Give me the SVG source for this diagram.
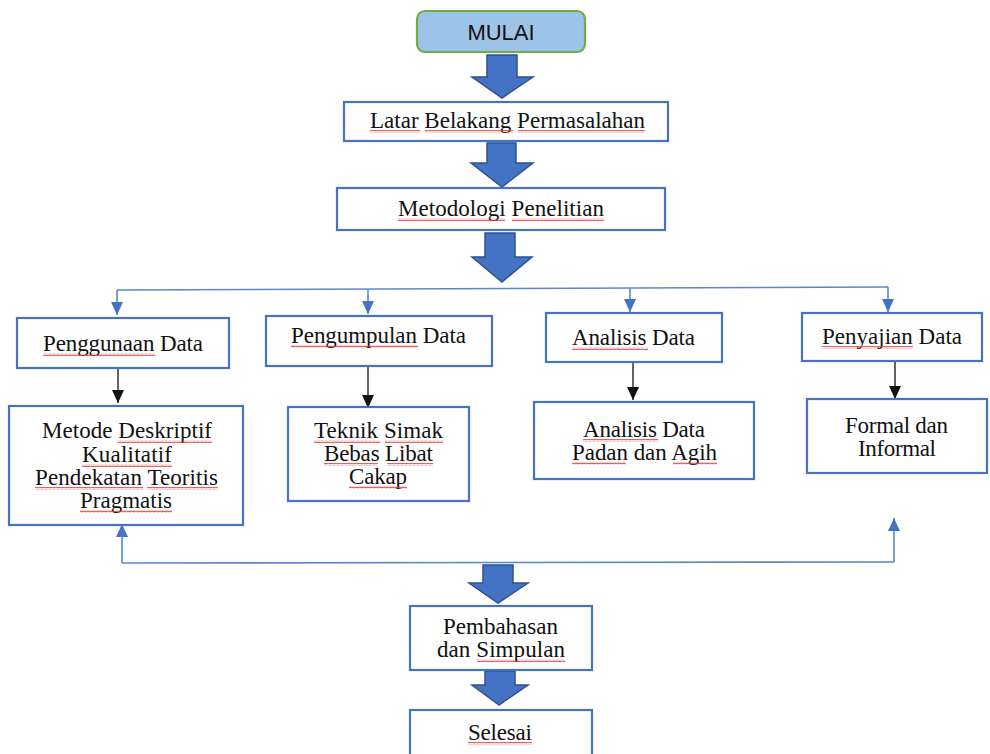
<svg xmlns="http://www.w3.org/2000/svg" width="990" height="754" viewBox="0 0 990 754">
<style>
.box{fill:#fff;stroke:#4472C4;stroke-width:2.2}
.t{font-family:"Liberation Serif","Times New Roman",serif;font-size:23px;fill:#111;text-anchor:middle}
.blk{fill:#4472C4;stroke:#2F528F;stroke-width:1.5;stroke-linejoin:miter}
.bl{fill:none;stroke:#5B87C8;stroke-width:1.6}
.kl{fill:none;stroke:#111;stroke-width:1.3}
.sq{fill:url(#wave)}
</style>
<defs>
<pattern id="wave" patternUnits="userSpaceOnUse" width="4" height="3">
<path d="M0 2.3 L1 0.7 L2 2.3 L3 0.7 L4 2.3" fill="none" stroke="#E03A3A" stroke-width="0.8"/>
</pattern>
<marker id="ak" markerUnits="userSpaceOnUse" markerWidth="14" markerHeight="14" viewBox="0 0 14 14" refX="13" refY="7" orient="auto">
<path d="M0 1 L13 7 L0 13 Z" fill="#111"/>
</marker>
<marker id="abl" markerUnits="userSpaceOnUse" markerWidth="14" markerHeight="14" viewBox="0 0 14 14" refX="13" refY="7" orient="auto">
<path d="M0 1 L13 7 L0 13 Z" fill="#4472C4"/>
</marker>
</defs>

<g id="connectors">
<path class="blk" d="M487 55 H517 V77 H533 L502 98 L472 77 H487 Z"/>
<path class="blk" d="M487 143 H516 V163 H533 L502 187 L471 163 H487 Z"/>
<path class="blk" d="M485 233 H515 V257 H532 L502 282 L472 257 H485 Z"/>
<path class="blk" d="M483 565 H513 V583 H528 L498 603 L469 583 H483 Z"/>
<path class="blk" d="M485 671 H515 V685 H528 L499 705 L472 685 H485 Z"/>
<path class="bl" d="M117 290 L888 287"/>
<path class="bl" d="M117 290 V315" marker-end="url(#abl)"/>
<path class="bl" d="M368 289 V314" marker-end="url(#abl)"/>
<path class="bl" d="M630 288 V312" marker-end="url(#abl)"/>
<path class="bl" d="M888 287 V312" marker-end="url(#abl)"/>
<path class="kl" d="M118 369 V403" marker-end="url(#ak)"/>
<path class="kl" d="M368 367 V408" marker-end="url(#ak)"/>
<path class="kl" d="M633 363 V400" marker-end="url(#ak)"/>
<path class="kl" d="M895 362 V399" marker-end="url(#ak)"/>
<path class="bl" d="M122 563 L894 562"/>
<path class="bl" d="M122 563 V524" marker-end="url(#abl)"/>
<path class="bl" d="M894 562 V518" marker-end="url(#abl)"/>
</g>

<g id="mulai">
<rect x="417" y="11" width="168" height="41" rx="8" fill="#9DC3E6" stroke="#70AD47" stroke-width="2.2"/>
<text x="501" y="40" font-family="'Liberation Sans',Arial,sans-serif" font-size="22" fill="#111" text-anchor="middle">MULAI</text>
</g>

<g id="latar">
<rect class="box" x="344" y="102" width="324" height="39"/>
<text class="t" x="507.5" y="128" textLength="275">Latar Belakang Permasalahan</text>
<rect class="sq" x="370" y="130" width="50" height="3"/>
<rect class="sq" x="425" y="130" width="88" height="3"/>
<rect class="sq" x="518" y="130" width="127" height="3"/>
</g>

<g id="metodologi">
<rect class="box" x="337" y="188" width="328" height="42"/>
<text class="t" x="501" y="216" textLength="206">Metodologi Penelitian</text>
<rect class="sq" x="398" y="218" width="107" height="3"/>
<rect class="sq" x="512" y="218" width="92" height="3"/>
</g>

<g id="penggunaan">
<rect class="box" x="17" y="318" width="212" height="50"/>
<text class="t" x="123" y="351" textLength="160">Penggunaan Data</text>
<rect class="sq" x="43" y="353" width="112" height="3"/>
</g>

<g id="pengumpulan">
<rect class="box" x="266" y="316" width="226" height="50"/>
<text class="t" x="378.5" y="343" textLength="175">Pengumpulan Data</text>
<rect class="sq" x="291" y="345" width="127" height="3"/>
</g>

<g id="analisis">
<rect class="box" x="546" y="313" width="176" height="49"/>
<text class="t" x="633.5" y="345" textLength="123">Analisis Data</text>
<rect class="sq" x="572" y="347" width="76" height="3"/>
</g>

<g id="penyajian">
<rect class="box" x="802" y="313" width="180" height="48"/>
<text class="t" x="892" y="344" textLength="140">Penyajian Data</text>
<rect class="sq" x="822" y="346" width="91" height="3"/>
</g>

<g id="metode">
<rect class="box" x="9" y="406" width="234" height="119"/>
<text class="t" x="127" y="438" textLength="170">Metode Deskriptif</text>
<text class="t" x="127" y="462" textLength="90">Kualitatif</text>
<text class="t" x="126.5" y="485" textLength="183">Pendekatan Teoritis</text>
<text class="t" x="126" y="508" textLength="92">Pragmatis</text>
<rect class="sq" x="118" y="440" width="94" height="3"/>
<rect class="sq" x="82" y="464" width="90" height="3"/>
<rect class="sq" x="35" y="487" width="108" height="3"/>
<rect class="sq" x="147" y="487" width="71" height="3"/>
<rect class="sq" x="80" y="510" width="92" height="3"/>
</g>

<g id="teknik">
<rect class="box" x="288" y="407" width="181" height="94"/>
<text class="t" x="378.5" y="438" textLength="129">Teknik Simak</text>
<text class="t" x="378.5" y="461" textLength="109">Bebas Libat</text>
<text class="t" x="378" y="484" textLength="58">Cakap</text>
<rect class="sq" x="314" y="440" width="66" height="3"/>
<rect class="sq" x="385" y="440" width="58" height="3"/>
<rect class="sq" x="324" y="463" width="54" height="3"/>
<rect class="sq" x="387" y="463" width="46" height="3"/>
<rect class="sq" x="349" y="486" width="58" height="3"/>
</g>

<g id="padan">
<rect class="box" x="534" y="402" width="220" height="77"/>
<text class="t" x="644" y="437" textLength="122">Analisis Data</text>
<text class="t" x="644.5" y="460" textLength="145">Padan dan Agih</text>
<rect class="sq" x="583" y="439" width="75" height="3"/>
<rect class="sq" x="572" y="462" width="54" height="3"/>
<rect class="sq" x="673" y="462" width="44" height="3"/>
</g>

<g id="formal">
<rect class="box" x="807" y="399" width="180" height="74"/>
<text class="t" x="896.5" y="433" textLength="103">Formal dan</text>
<text class="t" x="897" y="456" textLength="78">Informal</text>
</g>

<g id="pembahasan">
<rect class="box" x="410" y="606" width="182" height="64"/>
<text class="t" x="500.5" y="634" textLength="115">Pembahasan</text>
<text class="t" x="501" y="657" textLength="128">dan Simpulan</text>
<rect class="sq" x="477" y="659" width="88" height="3"/>
</g>

<g id="selesai">
<rect class="box" x="410" y="710" width="182" height="60"/>
<text class="t" x="500" y="740" textLength="64">Selesai</text>
<rect class="sq" x="468" y="742" width="64" height="3"/>
</g>
</svg>
